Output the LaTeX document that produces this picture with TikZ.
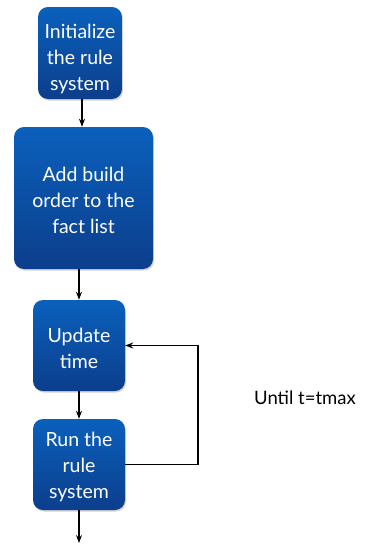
\documentclass[tikz,border=0pt]{standalone}
\usepackage{fontspec}
\setmainfont{Lato}
\usetikzlibrary{arrows.meta,shadows}
\definecolor{boxtop}{RGB}{10,96,188}
\definecolor{boxbot}{RGB}{12,62,140}
\newcommand{\lift}[1]{\rule{0pt}{#1}}
\begin{document}
\begin{tikzpicture}[x=1pt,y=-1pt,
    stepbox/.style={rounded corners=10pt, top color=boxtop, bottom color=boxbot,
      text=white, align=center, inner sep=0pt,
      font=\fontsize{19.5}{26}\selectfont,
      drop shadow={opacity=0.35, shadow xshift=1pt, shadow yshift=-1.5pt}},
    flow/.style={-{Stealth[length=8pt,width=6pt]}, line width=1.1pt}]
  \useasboundingbox (0,0) rectangle (366,546);
  \node[stepbox, minimum width=84pt, minimum height=92pt] (init) at (80,53) {\lift{26pt}Initialize\\the rule\\system};
  \node[stepbox, minimum width=139pt, minimum height=142pt] (add) at (83.5,198) {\lift{20pt}Add build\\order to the\\fact list};
  \node[stepbox, minimum width=92pt, minimum height=91pt] (update) at (79,345.5) {\lift{20pt}Update\\time};
  \node[stepbox, minimum width=92pt, minimum height=91pt] (run) at (79,464.5) {\lift{20pt}Run the\\rule\\system};
  \node[font=\fontsize{18.5}{22}\selectfont] (until) at (305,398) {Until t=tmax};
  \coordinate (back) at (198,400);
  \coordinate (out) at (79,543);
  \draw[flow] (init.south -| 82,0) -- (add.north -| 82,0);
  \draw[flow] (add.south -| 79,0) -- (update.north);
  \draw[flow] (update) -- (run);
  \draw[flow] (run.east) -| (back) |- (update.east);
  \draw[flow] (run) -- (out);
\end{tikzpicture}
\end{document}
